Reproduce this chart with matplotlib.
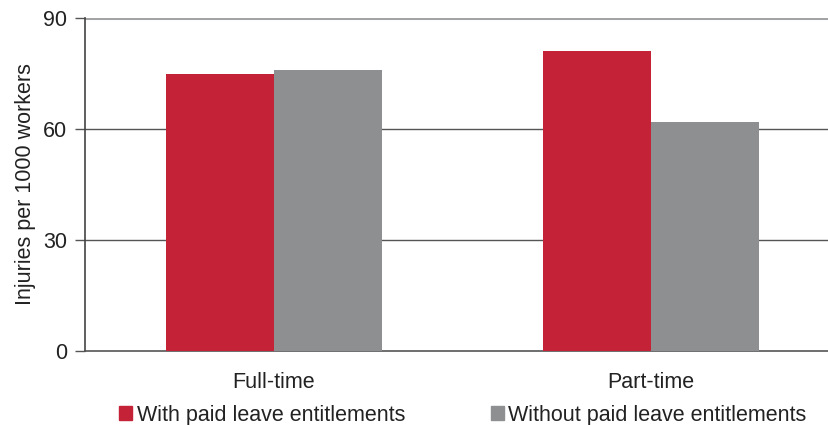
import numpy as np
import matplotlib.pyplot as plt
from matplotlib.patches import Patch

plt.rcParams["font.family"] = ["Liberation Sans", "DejaVu Sans"]

categories = ["Full-time", "Part-time"]
with_leave = [75, 81]
without_leave = [76, 62]
series_names = ["With paid leave entitlements", "Without paid leave entitlements"]
yticks = [0, 30, 60, 90]

red = "#c32237"
gray = "#8e8f91"
fs = 15.5

fig = plt.figure(figsize=(8.29, 4.25), dpi=100)
ax = fig.add_axes([85 / 829, 1 - 351 / 425, 744 / 829, 333 / 425])

x = np.arange(len(categories))
w = 0.2865
ax.bar(x - w / 2, with_leave, width=w, color=red, zorder=3)
ax.bar(x + w / 2, without_leave, width=w, color=gray, zorder=3)

ax.set_xlim(-0.501, 1.472)
ax.set_ylim(0, 90)
ax.set_yticks(yticks)
ax.set_xticks(x)
ax.set_xticklabels(categories, fontsize=fs, color="#222222")
ax.tick_params(axis="x", length=0, pad=15)
ax.tick_params(axis="y", labelsize=fs, labelcolor="#222222", length=7, width=1,
               color="#555555", pad=6)

# gridlines
for v in yticks[1:-1]:
    ax.axhline(v, color="#555555", linewidth=1, zorder=1)
ax.axhline(90, color="#a3a4a6", linewidth=2.2, zorder=1)

for side in ["top", "right"]:
    ax.spines[side].set_visible(False)
ax.spines["left"].set_color("#444444")
ax.spines["bottom"].set_color("#555555")
ax.spines["left"].set_linewidth(1.2)
ax.spines["bottom"].set_linewidth(1.2)

ax.set_ylabel("Injuries per 1000 workers", fontsize=fs, color="#222222", labelpad=5)

handles = [Patch(color=red), Patch(color=gray)]
fig.legend(handles, series_names, loc="center", bbox_to_anchor=(463 / 829, 1 - 415 / 425),
           ncol=2, frameon=False, fontsize=fs, handlelength=0.6, handleheight=0.6,
           handletextpad=0.2, columnspacing=4.0, labelcolor="#222222")

fig.savefig("out.png", dpi=100)
